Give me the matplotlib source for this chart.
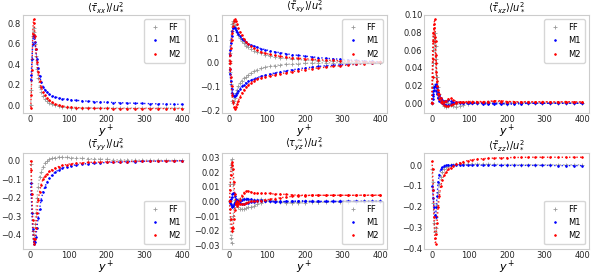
import matplotlib
matplotlib.use('Agg')
import matplotlib.pyplot as plt

# =========================
# Data
# =========================
yp = [0.5, 2, 4, 6, 8, 10, 12, 14, 17, 20,
      24, 28, 33, 38, 44, 50, 57, 65, 74, 84,
      95, 107, 120, 135, 150, 166, 183, 200, 218, 236,
      255, 274, 294, 314, 335, 356, 377, 398]

# <tau_xx>
xx_ff = [0.0, 0.15, 0.45, 0.68, 0.76, 0.72, 0.60, 0.48, 0.36, 0.27,
         0.18, 0.13, 0.09, 0.06, 0.04, 0.025, 0.012, 0.0, -0.008, -0.013,
         -0.017, -0.02, -0.021, -0.022, -0.023, -0.023, -0.024, -0.024, -0.024, -0.025,
         -0.025, -0.025, -0.025, -0.025, -0.025, -0.025, -0.025, -0.025]
xx_m1 = [0.25, 0.30, 0.45, 0.60, 0.68, 0.68, 0.62, 0.55, 0.45, 0.37,
         0.29, 0.23, 0.185, 0.155, 0.13, 0.11, 0.095, 0.083, 0.074, 0.066,
         0.060, 0.055, 0.050, 0.046, 0.042, 0.038, 0.035, 0.032, 0.029, 0.027,
         0.024, 0.022, 0.020, 0.018, 0.016, 0.014, 0.012, 0.011]
xx_m2 = [-0.02, 0.10, 0.35, 0.70, 0.84, 0.80, 0.68, 0.55, 0.42, 0.33,
         0.24, 0.18, 0.13, 0.10, 0.07, 0.05, 0.03, 0.015, 0.005, -0.005,
         -0.012, -0.017, -0.02, -0.023, -0.025, -0.027, -0.028, -0.029, -0.03, -0.03,
         -0.03, -0.03, -0.03, -0.03, -0.03, -0.03, -0.03, -0.03]

# <tau_xy>, two branches each
xy_ff_up = [0.005, 0.04, 0.09, 0.13, 0.16, 0.17, 0.165, 0.155, 0.14, 0.127,
            0.112, 0.10, 0.088, 0.078, 0.069, 0.062, 0.055, 0.048, 0.042, 0.036,
            0.031, 0.027, 0.023, 0.019, 0.016, 0.013, 0.011, 0.009, 0.0075, 0.006,
            0.005, 0.004, 0.0032, 0.0025, 0.0018, 0.0012, 0.0006, 0.0]
xy_ff_lo = [-0.005, -0.04, -0.09, -0.13, -0.16, -0.168, -0.16, -0.148, -0.13, -0.115,
            -0.10, -0.088, -0.077, -0.068, -0.06, -0.052, -0.045, -0.038, -0.032, -0.026,
            -0.021, -0.017, -0.014, -0.011, -0.009, -0.0075, -0.006, -0.005, -0.004, -0.0035,
            -0.003, -0.0025, -0.002, -0.0017, -0.0014, -0.001, -0.0005, 0.0]
xy_m1_up = [0.03, 0.05, 0.08, 0.11, 0.13, 0.142, 0.145, 0.142, 0.135, 0.126,
            0.116, 0.107, 0.098, 0.09, 0.083, 0.077, 0.071, 0.066, 0.061, 0.056,
            0.052, 0.047, 0.043, 0.039, 0.035, 0.031, 0.028, 0.025, 0.022, 0.019,
            0.016, 0.014, 0.012, 0.009, 0.007, 0.005, 0.003, 0.001]
xy_m1_lo = [-0.03, -0.05, -0.08, -0.11, -0.13, -0.138, -0.14, -0.139, -0.135, -0.128,
            -0.12, -0.11, -0.10, -0.093, -0.086, -0.08, -0.075, -0.069, -0.064, -0.059,
            -0.055, -0.05, -0.045, -0.04, -0.036, -0.032, -0.028, -0.024, -0.021, -0.018,
            -0.015, -0.013, -0.011, -0.009, -0.007, -0.005, -0.003, -0.001]
xy_m2_up = [0.005, 0.03, 0.06, 0.09, 0.12, 0.15, 0.172, 0.178, 0.172, 0.16,
            0.143, 0.127, 0.111, 0.097, 0.085, 0.075, 0.066, 0.057, 0.049, 0.042,
            0.037, 0.032, 0.028, 0.024, 0.021, 0.018, 0.016, 0.014, 0.012, 0.010,
            0.0085, 0.007, 0.006, 0.0048, 0.0035, 0.0025, 0.0012, 0.0]
xy_m2_lo = [-0.005, -0.03, -0.06, -0.10, -0.135, -0.165, -0.185, -0.193, -0.188, -0.176,
            -0.16, -0.145, -0.13, -0.117, -0.104, -0.094, -0.085, -0.077, -0.07, -0.064,
            -0.06, -0.057, -0.052, -0.048, -0.044, -0.04, -0.035, -0.031, -0.027, -0.024,
            -0.021, -0.018, -0.015, -0.012, -0.009, -0.006, -0.003, -0.001]

# <tau_xz>
xz_ff_a = [0.0, 0.02, 0.045, 0.07, 0.08, 0.065, 0.045, 0.03, 0.018, 0.01,
           0.004, 0.0, -0.003, -0.004, -0.003, -0.002, -0.003, -0.004, -0.003, -0.002,
           -0.001, 0.0, 0.0, 0.0005, 0.001, 0.0005, 0.0, -0.0005, 0.0, 0.0005,
           0.0005, 0.0, 0.0, 0.0005, 0.0005, 0.0, 0.0, 0.0]
xz_ff_b = [0.0, 0.03, 0.06, 0.075, 0.07, 0.05, 0.03, 0.018, 0.01, 0.006,
           0.004, 0.003, 0.002, 0.001, 0.0, 0.0, -0.001, -0.001, 0.0, 0.0005,
           0.001, 0.001, 0.0005, 0.0, 0.0, 0.0, 0.0005, 0.0005, 0.0, 0.0,
           0.0, 0.0005, 0.0, 0.0, 0.0, 0.0005, 0.0, 0.0]
xz_m1_a = [0.0, 0.005, 0.01, 0.015, 0.02, 0.022, 0.021, 0.018, 0.013, 0.009,
           0.006, 0.004, 0.003, 0.003, 0.004, 0.003, 0.002, 0.001, 0.0, 0.0,
           0.0005, 0.0005, 0.0, -0.0005, -0.001, -0.001, -0.0005, -0.001, -0.001, -0.0005,
           0.0, 0.0, 0.0, 0.0, 0.0, 0.0, 0.0, 0.0]
xz_m1_b = [0.0, 0.008, 0.014, 0.018, 0.02, 0.018, 0.014, 0.01, 0.006, 0.003,
           0.001, 0.0, -0.001, -0.002, -0.002, -0.001, 0.0, 0.001, 0.001, 0.0005,
           0.0, 0.0, 0.0005, 0.0005, 0.0, 0.0, 0.0, 0.0, 0.0005, 0.0005,
           0.0, 0.0, 0.0, 0.0, 0.0, 0.0, 0.0, 0.0]
xz_m2_a = [0.0, 0.03, 0.07, 0.09, 0.095, 0.07, 0.045, 0.025, 0.015, 0.01,
           0.006, 0.003, 0.002, 0.003, 0.005, 0.006, 0.004, 0.002, 0.001, 0.001,
           0.0015, 0.002, 0.002, 0.002, 0.002, 0.003, 0.002, 0.002, 0.002, 0.0015,
           0.0015, 0.0015, 0.002, 0.0015, 0.0015, 0.0015, 0.0015, 0.0015]
xz_m2_b = [0.0, 0.05, 0.08, 0.085, 0.075, 0.055, 0.035, 0.02, 0.01, 0.005,
           0.002, 0.0, -0.002, -0.003, -0.003, -0.002, -0.001, 0.0, 0.001, 0.0015,
           0.002, 0.002, 0.0015, 0.0015, 0.002, 0.0025, 0.003, 0.002, 0.0015, 0.0015,
           0.002, 0.0015, 0.0015, 0.0015, 0.0015, 0.002, 0.0015, 0.0015]

# <tau_yy>
yy_ff = [-0.02, -0.12, -0.28, -0.38, -0.42, -0.40, -0.34, -0.28, -0.20, -0.14,
         -0.09, -0.06, -0.035, -0.015, -0.002, 0.006, 0.012, 0.016, 0.018, 0.018,
         0.017, 0.016, 0.014, 0.012, 0.011, 0.009, 0.008, 0.006, 0.005, 0.004,
         0.004, 0.003, 0.003, 0.002, 0.002, 0.001, 0.001, 0.001]
yy_m1 = [-0.12, -0.18, -0.28, -0.37, -0.43, -0.45, -0.44, -0.41, -0.36, -0.31,
         -0.26, -0.21, -0.17, -0.14, -0.115, -0.095, -0.077, -0.062, -0.05, -0.04,
         -0.033, -0.027, -0.023, -0.019, -0.016, -0.014, -0.012, -0.010, -0.009, -0.008,
         -0.006, -0.005, -0.004, -0.003, -0.003, -0.002, -0.002, -0.001]
yy_m2 = [0.0, -0.05, -0.18, -0.32, -0.42, -0.45, -0.42, -0.36, -0.28, -0.21,
         -0.17, -0.13, -0.10, -0.083, -0.07, -0.058, -0.048, -0.04, -0.032, -0.026,
         -0.021, -0.017, -0.014, -0.012, -0.010, -0.009, -0.008, -0.007, -0.006, -0.005,
         -0.005, -0.004, -0.004, -0.003, -0.003, -0.002, -0.002, -0.001]

# <tau_yz>, two branches each
yz_ff_up = [0.0, 0.012, 0.025, 0.029, 0.022, 0.012, 0.005, 0.001, -0.001, 0.0,
            0.001, 0.002, 0.002, 0.002, 0.002, 0.001, 0.001, 0.001, 0.001, 0.0015,
            0.001, 0.0, 0.0, -0.0005, -0.001, -0.001, -0.0005, 0.0, 0.0, -0.0005,
            -0.0005, 0.0, 0.0, 0.0, -0.0005, 0.0, 0.0, 0.0]
yz_ff_lo = [0.0, -0.012, -0.025, -0.028, -0.02, -0.01, -0.004, -0.001, 0.0, -0.002,
            -0.004, -0.005, -0.005, -0.005, -0.0045, -0.004, -0.0035, -0.003, -0.002, -0.001,
            0.0, 0.0, 0.0005, 0.0, -0.0005, -0.0005, -0.001, -0.001, -0.0005, -0.0005,
            0.0, 0.0, -0.0005, -0.0005, 0.0, 0.0, 0.0, 0.0]
yz_m1_up = [0.0, 0.001, 0.002, 0.003, 0.005, 0.006, 0.0055, 0.004, 0.002, 0.001,
            0.0, 0.0, 0.001, 0.0015, 0.002, 0.002, 0.0015, 0.001, 0.001, 0.0008,
            0.0005, 0.0005, 0.0, 0.0, 0.0, 0.0, 0.0005, 0.0005, 0.0, 0.0,
            0.0, 0.0, 0.0, 0.0, 0.0, 0.0, 0.0, 0.0]
yz_m1_lo = [0.0, -0.001, -0.002, -0.003, -0.004, -0.003, -0.002, -0.001, 0.0, 0.0005,
            0.0, -0.001, -0.0015, -0.0015, -0.001, -0.0008, -0.0005, -0.0003, 0.0, 0.0,
            0.0, 0.0, -0.0005, -0.0005, 0.0, 0.0, 0.0, 0.0, 0.0, 0.0,
            0.0, 0.0, 0.0, 0.0, 0.0, 0.0, 0.0, 0.0]
yz_m2_up = [0.0, 0.008, 0.018, 0.025, 0.027, 0.022, 0.013, 0.005, -0.001, -0.003,
            -0.002, 0.001, 0.004, 0.006, 0.007, 0.007, 0.0065, 0.006, 0.0055, 0.0055,
            0.0055, 0.0055, 0.005, 0.005, 0.0048, 0.0045, 0.0043, 0.0042, 0.0042, 0.0042,
            0.0042, 0.0042, 0.0042, 0.0042, 0.0042, 0.0043, 0.0043, 0.0043]
yz_m2_lo = [0.0, -0.005, -0.012, -0.018, -0.02, -0.018, -0.012, -0.006, -0.002, 0.0,
            -0.001, -0.002, -0.002, -0.0015, -0.001, -0.0005, 0.0, 0.0, 0.0003, 0.0005,
            0.001, 0.0015, 0.002, 0.0025, 0.003, 0.0035, 0.004, 0.004, 0.0042, 0.0042,
            0.0042, 0.0042, 0.0042, 0.0042, 0.0042, 0.0042, 0.0042, 0.0042]

# <tau_zz>
zz_ff = [-0.02, -0.08, -0.18, -0.28, -0.32, -0.30, -0.25, -0.19, -0.13, -0.09,
         -0.055, -0.035, -0.02, -0.01, -0.003, 0.0, 0.002, 0.004, 0.005, 0.006,
         0.006, 0.006, 0.005, 0.005, 0.004, 0.004, 0.003, 0.003, 0.003, 0.002,
         0.002, 0.002, 0.002, 0.002, 0.002, 0.002, 0.002, 0.002]
zz_m1 = [-0.10, -0.12, -0.16, -0.20, -0.24, -0.25, -0.20, -0.15, -0.08, -0.045,
         -0.02, -0.008, -0.002, 0.001, 0.002, 0.002, 0.003, 0.003, 0.002, 0.001,
         0.0, 0.0, 0.0, 0.0, -0.001, -0.001, -0.001, -0.001, -0.001, -0.001,
         -0.001, -0.001, -0.001, -0.001, -0.002, -0.002, -0.002, -0.002]
zz_m2 = [0.02, -0.02, -0.12, -0.25, -0.35, -0.38, -0.33, -0.28, -0.20, -0.15,
         -0.10, -0.07, -0.048, -0.032, -0.02, -0.012, -0.004, 0.004, 0.011, 0.017,
         0.022, 0.026, 0.029, 0.031, 0.033, 0.034, 0.035, 0.036, 0.037, 0.037,
         0.038, 0.038, 0.038, 0.038, 0.038, 0.038, 0.038, 0.038]

labels = ['FF', 'M1', 'M2']
colors = ['#999999', 'blue', 'red']
markers = ['+', '.', '.']

titles = [r'$\langle\bar{\tau}_{xx}\rangle/u_*^2$',
          r'$\langle\tilde{\tau}_{xy}\rangle/u_*^2$',
          r'$\langle\tilde{\tau}_{xz}\rangle/u_*^2$',
          r'$\langle\bar{\tau}_{yy}\rangle/u_*^2$',
          r'$\langle\tau^{\sim}_{yz}\rangle/u_*^2$',
          r'$\langle\tilde{\tau}_{zz}\rangle/u_*^2$']

yticks = [[0.0, 0.2, 0.4, 0.6, 0.8],
          [-0.2, -0.1, 0.0, 0.1],
          [0.0, 0.02, 0.04, 0.06, 0.08, 0.10],
          [-0.4, -0.3, -0.2, -0.1, 0.0],
          [-0.03, -0.02, -0.01, 0.0, 0.01, 0.02, 0.03],
          [-0.4, -0.3, -0.2, -0.1, 0.0]]
ylims = [None, None, (-0.011, 0.1), None, (-0.032, 0.033), None]

panels = [
    [[xx_ff], [xx_m1], [xx_m2]],
    [[xy_ff_up, xy_ff_lo], [xy_m1_up, xy_m1_lo], [xy_m2_up, xy_m2_lo]],
    [[xz_ff_a, xz_ff_b], [xz_m1_a, xz_m1_b], [xz_m2_a, xz_m2_b]],
    [[yy_ff], [yy_m1], [yy_m2]],
    [[yz_ff_up, yz_ff_lo], [yz_m1_up, yz_m1_lo], [yz_m2_up, yz_m2_lo]],
    [[zz_ff], [zz_m1], [zz_m2]],
]

# axes boxes in figure fraction: left, bottom, width, height
lefts = [0.039, 0.375, 0.717]
widths = [0.281, 0.279, 0.278]
bottoms = [0.589, 0.096]
heights = [0.357, 0.348]

# =========================
# Plot
# =========================
fig = plt.figure(figsize=(5.92, 2.75), dpi=100)

for k, series in enumerate(panels):
    r, c = divmod(k, 3)
    ax = fig.add_axes([lefts[c], bottoms[r], widths[c], heights[r]])
    for s, branches in enumerate(series):
        for b, vals in enumerate(branches):
            ax.plot(yp, vals, ls=':', lw=1.0, color=colors[s],
                    alpha=0.8 if s == 0 else 0.9)
            ax.plot(yp, vals, ls='none', marker=markers[s],
                    ms=2.6 if s == 0 else 2.4, mew=0.6, color=colors[s],
                    label=labels[s] if b == 0 else None)
    ax.set_title(titles[k], fontsize=7, pad=1)
    ax.set_xlabel('$y^+$', fontsize=8, labelpad=-1)
    ax.set_xticks([0, 100, 200, 300, 400])
    ax.set_yticks(yticks[k])
    if ylims[k] is not None:
        ax.set_ylim(*ylims[k])
    ax.tick_params(length=0, labelsize=6, pad=1.5, colors='#262626')
    for sp in ax.spines.values():
        sp.set_color('#cccccc')
        sp.set_linewidth(0.8)
    ax.legend(loc='upper right' if r == 0 else 'lower right', fontsize=6,
              edgecolor='#cccccc', handlelength=1.6, handletextpad=0.8,
              borderpad=0.5, labelspacing=0.5, markerscale=1.0)

plt.savefig('out.png', dpi=100)
plt.close()
